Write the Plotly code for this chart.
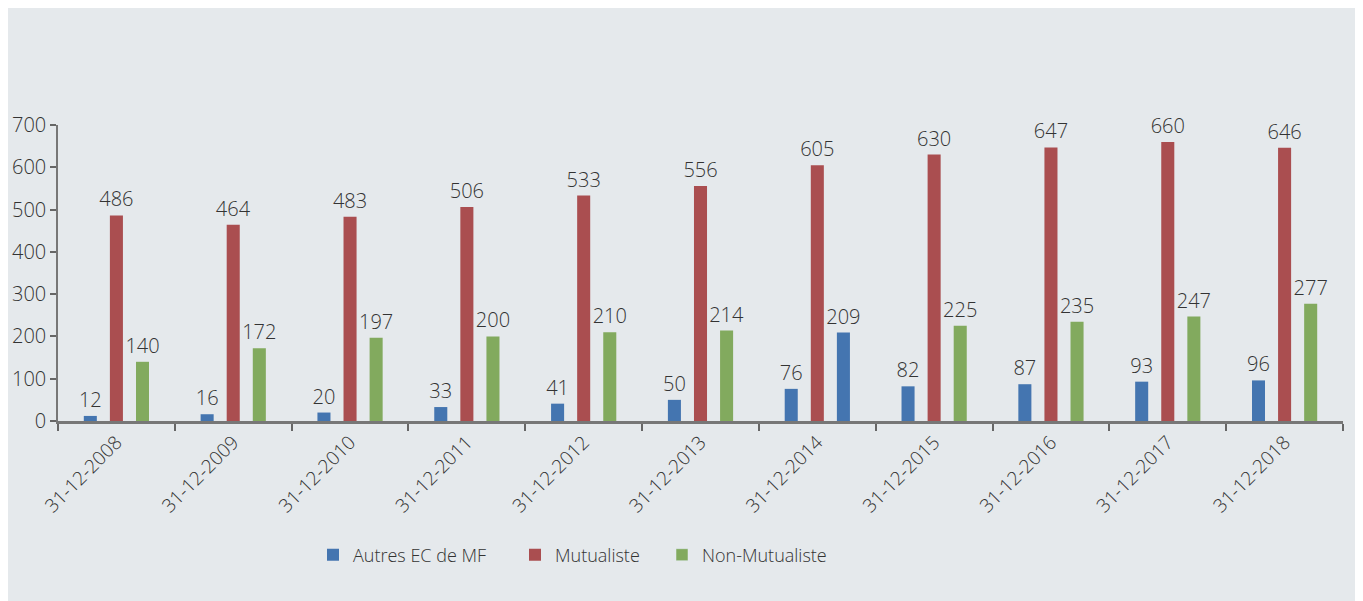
import plotly.graph_objects as go

dates = ['31-12-2008', '31-12-2009', '31-12-2010', '31-12-2011', '31-12-2012', '31-12-2013',
         '31-12-2014', '31-12-2015', '31-12-2016', '31-12-2017', '31-12-2018']
autres = [12, 16, 20, 33, 41, 50, 76, 82, 87, 93, 96]
mutualiste = [486, 464, 483, 506, 533, 556, 605, 630, 647, 660, 646]
non_mutualiste = [140, 172, 197, 200, 210, 214, 209, 225, 235, 247, 277]

BLUE = '#4475B0'
RED = '#AA4E50'
GREEN = '#82AA5E'
BG = '#E5E9EC'
TXT = '#333333'
FONT = '"Open Sans", sans-serif'
WEIGHT = 350

# page has an 8px body margin, so the figure is placed at (8, 8) in the window
OFF = 8
W, H = 1363 - OFF, 601 - OFF
# plot area in window pixels
PL, PR, PT, PB = 58, 1343, 125, 421
L, R, T, B = PL - OFF, W - (PR - OFF), PT - OFF, H - (PB - OFF)
pw, ph = PR - PL, PB - PT


def px_x(x):
    return (x - PL) / pw


def px_y(y):
    return (PB - y) / ph


# in the source the 2014 Non-Mutualiste bar is drawn in blue
nm_colours = [BLUE if d == '31-12-2014' else GREEN for d in dates]

fig = go.Figure()

series = [
    ('Autres EC de MF', autres, BLUE, 'legend', 'a'),
    ('Mutualiste', mutualiste, RED, 'legend2', 'm'),
    ('Non-Mutualiste', non_mutualiste, nm_colours, 'legend3', 'n'),
]

for name, vals, colour, leg, grp in series:
    fig.add_trace(
        go.Bar(
            x=dates,
            y=vals,
            name=name,
            marker_color=colour,
            marker_line_width=0,
            text=vals,
            textposition='outside',
            constraintext='none',
            cliponaxis=False,
            textfont=dict(family=FONT, size=20, color=TXT, weight=WEIGHT),
            showlegend=True,
            legend=leg,
            offsetgroup=grp,
        )
    )

# legend swatch for Non-Mutualiste should be green (shares the same slot)
fig.data[2].update(showlegend=False)
fig.add_trace(
    go.Bar(x=[None], y=[None], name='Non-Mutualiste', marker_color=GREEN,
           showlegend=True, legend='legend3', offsetgroup='n')
)

legend_style = dict(
    orientation='h',
    xanchor='left',
    yanchor='middle',
    y=px_y(555),
    font=dict(family=FONT, size=18, color=TXT, weight=WEIGHT),
    bgcolor='rgba(0,0,0,0)',
    borderwidth=0,
)

fig.update_layout(
    width=W,
    height=H,
    margin=dict(l=L, r=R, t=T, b=B),
    paper_bgcolor='white',
    plot_bgcolor=BG,
    showlegend=True,
    barmode='group',
    bargap=0.33,
    bargroupgap=0.5,
    font=dict(family=FONT, size=20, color=TXT, weight=WEIGHT),
    legend=dict(**legend_style, x=px_x(353 - 40)),
    legend2=dict(**legend_style, x=px_x(555 - 40)),
    legend3=dict(**legend_style, x=px_x(702 - 40)),
    xaxis=dict(
        automargin=False,
        tickangle=-45,
        tickson='boundaries',
        ticks='outside',
        ticklen=7,
        tickwidth=1.5,
        tickcolor='#666666',
        showline=True,
        linecolor='#777777',
        linewidth=2.5,
        showgrid=False,
        tickfont=dict(family=FONT, size=19, color=TXT, weight=WEIGHT),
    ),
    yaxis=dict(
        automargin=False,
        range=[0, 700],
        dtick=100,
        ticks='outside',
        ticklen=6,
        tickwidth=1.5,
        tickcolor='#666666',
        showline=True,
        linecolor='#777777',
        linewidth=1.5,
        showgrid=False,
        zeroline=False,
        tickfont=dict(family=FONT, size=20, color=TXT, weight=WEIGHT),
    ),
    shapes=[
        dict(
            type='rect',
            xref='paper',
            yref='paper',
            x0=px_x(5),
            x1=px_x(1357),
            y0=px_y(601),
            y1=px_y(7),
            fillcolor=BG,
            line_width=0,
            layer='below',
        )
    ],
)

fig.write_html('out.html')
